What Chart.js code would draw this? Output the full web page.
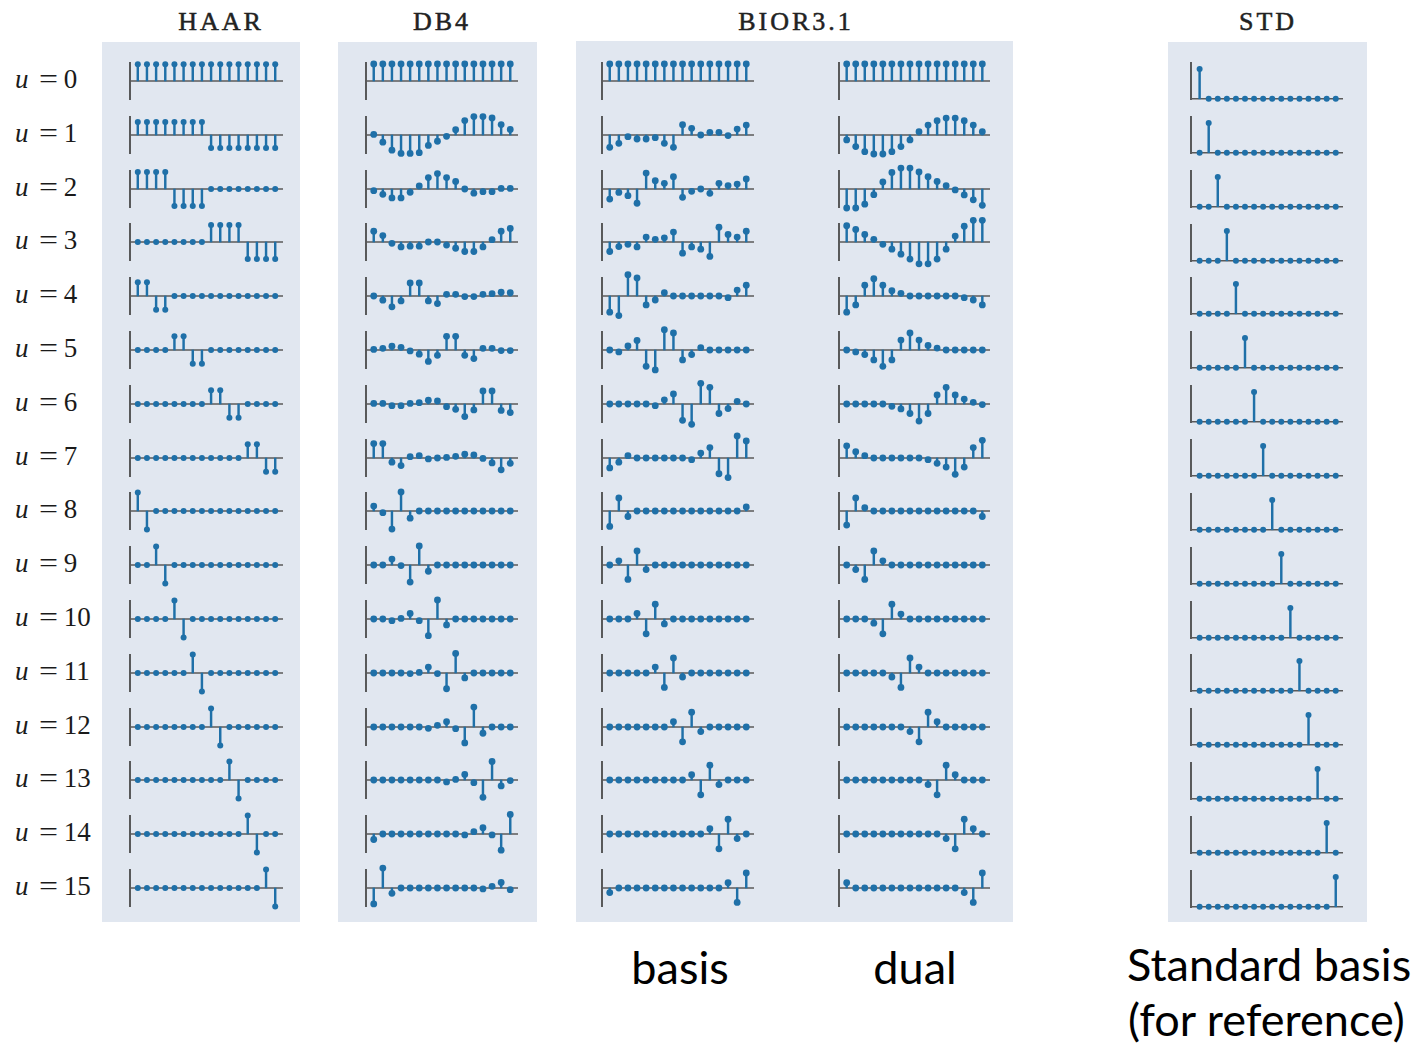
<!DOCTYPE html>
<html>
<head>
<meta charset="utf-8">
<script src="https://cdn.jsdelivr.net/npm/chart.js@4.4.0/dist/chart.umd.min.js"></script>
<style>
  body { margin: 0; background: #fff; }
  #page { position: relative; width: 1414px; height: 1046px; overflow: hidden; }
  .panel { position: absolute; background: #e1e7f0; }
  .title { position: absolute; font-family: "Liberation Serif", serif; font-size: 26px; letter-spacing: 3px; color: #222; -webkit-text-stroke: 0.5px #222; transform: translateX(-50%); line-height: 1; white-space: nowrap; }
  .rowlab { position: absolute; left: 15px; font-family: "Liberation Serif", serif; font-size: 27px; color: #1a1a1a; line-height: 1; white-space: nowrap; }
  .rowlab .eq { display: inline-block; margin: 0 8px 0 12px; transform: scaleX(1.25); }
  .note { position: absolute; font-family: Lato, "Open Sans", sans-serif; font-size: 45px; color: #000; line-height: 1; white-space: nowrap; }
  canvas { position: absolute; }
</style>
</head>
<body>
<div id="page"></div>
<script>
// values, in units of the half-height of each small axis
const haarRows = [
  [0.88,0.88,0.88,0.88,0.88,0.88,0.88,0.88,0.88,0.88,0.88,0.88,0.88,0.88,0.88,0.88],
  [0.68,0.68,0.68,0.68,0.68,0.68,0.68,0.68,-0.68,-0.68,-0.68,-0.68,-0.68,-0.68,-0.68,-0.68],
  [0.9,0.9,0.9,0.9,-0.9,-0.9,-0.9,-0.9,0,0,0,0,0,0,0,0],
  [0,0,0,0,0,0,0,0,0.9,0.9,0.9,0.9,-0.9,-0.9,-0.9,-0.9],
  [0.72,0.72,-0.72,-0.72,0,0,0,0,0,0,0,0,0,0,0,0],
  [0,0,0,0,0.72,0.72,-0.72,-0.72,0,0,0,0,0,0,0,0],
  [0,0,0,0,0,0,0,0,0.72,0.72,-0.72,-0.72,0,0,0,0],
  [0,0,0,0,0,0,0,0,0,0,0,0,0.72,0.72,-0.72,-0.72],
  [0.97,-0.97,0,0,0,0,0,0,0,0,0,0,0,0,0,0],
  [0,0,0.97,-0.97,0,0,0,0,0,0,0,0,0,0,0,0],
  [0,0,0,0,0.97,-0.97,0,0,0,0,0,0,0,0,0,0],
  [0,0,0,0,0,0,0.97,-0.97,0,0,0,0,0,0,0,0],
  [0,0,0,0,0,0,0,0,0.97,-0.97,0,0,0,0,0,0],
  [0,0,0,0,0,0,0,0,0,0,0.97,-0.97,0,0,0,0],
  [0,0,0,0,0,0,0,0,0,0,0,0,0.97,-0.97,0,0],
  [0,0,0,0,0,0,0,0,0,0,0,0,0,0,0.97,-0.97]
];

const db4Rows = [
  [0.9,0.9,0.9,0.9,0.9,0.9,0.9,0.9,0.9,0.9,0.9,0.9,0.9,0.9,0.9,0.9],
  [0.03,-0.38,-0.8,-0.97,-0.97,-0.93,-0.55,-0.33,-0.07,0.28,0.76,0.97,0.97,0.9,0.55,0.29],
  [-0.09,-0.28,-0.47,-0.47,-0.17,0.16,0.6,0.81,0.6,0.4,0,-0.22,-0.14,-0.14,0.03,0.03],
  [0.57,0.34,-0.07,-0.26,-0.22,-0.22,0,0,-0.16,-0.33,-0.5,-0.5,-0.26,0.12,0.57,0.71],
  [0,-0.22,-0.57,-0.26,0.69,0.69,-0.26,-0.4,0.09,0.09,-0.03,-0.03,0.09,0.12,0.2,0.17],
  [0.03,0.09,0.2,0.14,-0.05,-0.22,-0.6,-0.28,0.72,0.72,-0.28,-0.45,0.09,0.09,-0.03,-0.03],
  [0.03,0.03,-0.09,-0.09,0.03,0.07,0.2,0.16,-0.14,-0.28,-0.66,-0.31,0.69,0.69,-0.34,-0.45],
  [0.76,0.76,-0.22,-0.4,0.07,0.12,-0.05,0,0.03,0.09,0.2,0.16,-0.02,-0.26,-0.62,-0.28],
  [0.26,-0.09,-0.95,1.0,-0.38,0,0,0,0,0,0,0,0,0,0,0],
  [0,0,0.31,-0.03,-0.9,1.0,-0.33,0,0,0,0,0,0,0,0,0],
  [0,0,-0.09,0.03,0.29,-0.09,-0.88,1.0,-0.31,0,0,0,0,0,0,0],
  [0,0,0,0,-0.03,0.03,0.31,-0.03,-0.83,1.03,-0.26,0,0,0,0,0],
  [0,0,0,0,0,0,-0.07,0.09,0.28,-0.09,-0.84,1.05,-0.33,0,0,0],
  [0,0,0,0,0,0,0,0,-0.1,0.03,0.29,-0.14,-0.91,0.98,-0.31,-0.03],
  [-0.29,0,0,0,0,0,0,0,0,0,-0.05,0.12,0.33,-0.05,-0.85,1.03],
  [-0.84,1.05,-0.28,0,0,0,0,0,0,0,0,0,-0.05,0.09,0.29,-0.09]
];

const biorBasisRows = [
  [0.9,0.9,0.9,0.9,0.9,0.9,0.9,0.9,0.9,0.9,0.9,0.9,0.9,0.9,0.9,0.9],
  [-0.65,-0.44,-0.09,-0.21,-0.21,-0.14,-0.44,-0.65,0.54,0.35,0,0.14,0.14,-0.03,0.31,0.52],
  [-0.53,-0.18,-0.35,-0.75,0.84,0.44,0.3,0.65,-0.44,-0.12,0,-0.23,0.3,0.18,0.26,0.53],
  [-0.5,-0.24,-0.12,-0.26,0.26,0.14,0.22,0.52,-0.59,-0.26,-0.38,-0.76,0.78,0.4,0.26,0.57],
  [-0.85,-1.03,1.12,0.95,-0.47,-0.21,0.17,0,0,0,0,0,0,-0.09,0.31,0.57],
  [0,-0.1,0.21,0.5,-0.86,-1.05,1.07,0.9,-0.52,-0.24,0.12,0,0,0,0,0],
  [0,0,0,0,0,-0.09,0.22,0.53,-0.86,-1.07,1.09,0.88,-0.5,-0.24,0.14,0],
  [-0.52,-0.22,0.12,0,0,0,0,0,0,-0.09,0.26,0.55,-0.83,-1.03,1.16,0.9],
  [-0.81,0.69,-0.29,0,0,0,0,0,0,0,0,0,0,0,0,0.21],
  [0,0.22,-0.76,0.74,-0.24,0,0,0,0,0,0,0,0,0,0,0],
  [0,0,0,0.29,-0.78,0.78,-0.26,0,0,0,0,0,0,0,0,0],
  [0,0,0,0,0,0.31,-0.76,0.79,-0.21,0,0,0,0,0,0,0],
  [0,0,0,0,0,0,0,0.28,-0.78,0.78,-0.24,0,0,0,0,0],
  [0,0,0,0,0,0,0,0,0,0.28,-0.78,0.78,-0.24,0,0,0],
  [0,0,0,0,0,0,0,0,0,0,0,0.28,-0.78,0.78,-0.24,0],
  [-0.24,0,0,0,0,0,0,0,0,0,0,0,0,0.28,-0.76,0.79]
];

const biorDualRows = [
  [0.9,0.9,0.9,0.9,0.9,0.9,0.9,0.9,0.9,0.9,0.9,0.9,0.9,0.9,0.9,0.9],
  [-0.26,-0.61,-0.88,-1.0,-1.0,-0.88,-0.61,-0.26,0.17,0.52,0.75,0.89,0.89,0.75,0.52,0.17],
  [-1.0,-1.0,-0.8,-0.3,0.37,0.87,1.1,1.1,0.9,0.65,0.4,0.17,-0.05,-0.31,-0.57,-0.86],
  [0.86,0.66,0.4,0.14,-0.12,-0.38,-0.64,-0.9,-1.15,-1.15,-0.9,-0.38,0.31,0.83,1.14,1.14],
  [-0.85,-0.47,0.57,0.91,0.57,0.28,0.14,0,0,0,0,0,0,-0.09,-0.21,-0.47],
  [0,-0.1,-0.24,-0.52,-0.86,-0.52,0.52,0.9,0.52,0.24,0.1,0,0,0,0,0],
  [0,0,0,0,0,-0.12,-0.26,-0.5,-0.9,-0.5,0.48,0.88,0.48,0.26,0.09,-0.03],
  [0.64,0.33,0.12,0,0,0,0,0,0,-0.09,-0.28,-0.48,-0.86,-0.48,0.55,0.93],
  [-0.74,0.69,0.17,0,0,0,0,0,0,0,0,0,0,0,0,-0.29],
  [0,-0.24,-0.76,0.74,0.22,0,0,0,0,0,0,0,0,0,0,0],
  [0,0,0,-0.22,-0.78,0.78,0.26,0,0,0,0,0,0,0,0,0],
  [0,0,0,0,0,-0.21,-0.76,0.79,0.31,0,0,0,0,0,0,0],
  [0,0,0,0,0,0,0,-0.24,-0.78,0.78,0.28,0,0,0,0,0],
  [0,0,0,0,0,0,0,0,0,-0.24,-0.78,0.78,0.28,0,0,0],
  [0,0,0,0,0,0,0,0,0,0,0,-0.24,-0.78,0.78,0.28,0],
  [0.28,0,0,0,0,0,0,0,0,0,0,0,0,-0.24,-0.76,0.79]
];

const stdRows = [
  [1,0,0,0,0,0,0,0,0,0,0,0,0,0,0,0],
  [0,1,0,0,0,0,0,0,0,0,0,0,0,0,0,0],
  [0,0,1,0,0,0,0,0,0,0,0,0,0,0,0,0],
  [0,0,0,1,0,0,0,0,0,0,0,0,0,0,0,0],
  [0,0,0,0,1,0,0,0,0,0,0,0,0,0,0,0],
  [0,0,0,0,0,1,0,0,0,0,0,0,0,0,0,0],
  [0,0,0,0,0,0,1,0,0,0,0,0,0,0,0,0],
  [0,0,0,0,0,0,0,1,0,0,0,0,0,0,0,0],
  [0,0,0,0,0,0,0,0,1,0,0,0,0,0,0,0],
  [0,0,0,0,0,0,0,0,0,1,0,0,0,0,0,0],
  [0,0,0,0,0,0,0,0,0,0,1,0,0,0,0,0],
  [0,0,0,0,0,0,0,0,0,0,0,1,0,0,0,0],
  [0,0,0,0,0,0,0,0,0,0,0,0,1,0,0,0],
  [0,0,0,0,0,0,0,0,0,0,0,0,0,1,0,0],
  [0,0,0,0,0,0,0,0,0,0,0,0,0,0,1,0],
  [0,0,0,0,0,0,0,0,0,0,0,0,0,0,0,1]
];

const rowLabels = ['0','1','2','3','4','5','6','7','8','9','10','11','12','13','14','15'];
const titles = ['HAAR', 'DB4', 'BIOR3.1', 'STD'];
const notes = ['basis', 'dual', 'Standard basis', '(for reference)'];

let stemColor = '#1f70a8';
let baseColor = '#5a5a5a';
let spineColor = '#4a4a4a';

const page = document.getElementById('page');

function addDiv(cls, html, css) {
    let d = document.createElement('div');
    d.className = cls;
    d.innerHTML = html;
    Object.assign(d.style, css);
    page.appendChild(d);
    return d;
}

// grey panels
addDiv('panel', '', { left: '102px', top: '42px', width: '198px', height: '880px' });
addDiv('panel', '', { left: '338px', top: '42px', width: '199px', height: '880px' });
addDiv('panel', '', { left: '576px', top: '41px', width: '437px', height: '881px' });
addDiv('panel', '', { left: '1168px', top: '42px', width: '199px', height: '880px' });

// column titles
addDiv('title', titles[0], { left: '221px', top: '9px' });
addDiv('title', titles[1], { left: '442px', top: '9px' });
addDiv('title', titles[2], { left: '796px', top: '9px' });
addDiv('title', titles[3], { left: '1268px', top: '9px' });

// notes under the figure
addDiv('note', notes[0], { left: '680px', top: '945px', transform: 'translateX(-50%)' });
addDiv('note', notes[1], { left: '915px', top: '945px', transform: 'translateX(-50%)' });
addDiv('note', notes[2], { left: '1127px', top: '942px' });
addDiv('note', notes[3], { left: '1128px', top: '997px' });

const columns = [
    { rows: haarRows, left: 130, width: 153, xMin: -0.85, xMax: 15.85, dot: 3, std: false },
    { rows: db4Rows, left: 366, width: 152, xMin: -0.85, xMax: 15.85, dot: 3.4, std: false },
    { rows: biorBasisRows, left: 602, width: 152, xMin: -0.85, xMax: 15.85, dot: 3.4, std: false },
    { rows: biorDualRows, left: 839, width: 151, xMin: -0.85, xMax: 15.85, dot: 3.4, std: false },
    { rows: stdRows, left: 1191, width: 152, xMin: -0.95, xMax: 15.8, dot: 3, std: true }
];

const pad = 8;

function stemChart(canvas, values, col) {
    let yMin = col.std ? -0.04 : -1;
    let yMax = col.std ? 1.23 : 1;
    let pts = values.map((v, i) => ({ x: i, y: v }));
    return new Chart(canvas, {
        type: 'bar',
        data: {
            datasets: [
                {
                    type: 'line', data: pts, showLine: false,
                    pointRadius: col.dot, pointBackgroundColor: stemColor,
                    pointBorderWidth: 0, order: 0, clip: false
                },
                {
                    type: 'bar', data: pts, backgroundColor: stemColor,
                    barThickness: 1.8, grouped: false, order: 1, clip: false
                },
                {
                    type: 'line', data: [{ x: col.xMin, y: 0 }, { x: col.xMax, y: 0 }],
                    borderColor: baseColor, borderWidth: 1.4, pointRadius: 0, order: 2
                },
                {
                    type: 'line', data: [{ x: col.xMin, y: yMin }, { x: col.xMin, y: yMax }],
                    borderColor: spineColor, borderWidth: 1.8, pointRadius: 0, order: 3, clip: false
                }
            ]
        },
        options: {
            responsive: false,
            animation: false,
            devicePixelRatio: 1,
            events: [],
            layout: { padding: pad },
            plugins: { legend: { display: false }, tooltip: { enabled: false } },
            scales: {
                x: { type: 'linear', min: col.xMin, max: col.xMax, offset: false, display: false },
                y: { type: 'linear', min: yMin, max: yMax, display: false }
            }
        }
    });
}

for (let u = 0; u < 16; u++) {
    let yb = 81 + 53.8 * u;
    addDiv('rowlab', '<i>u</i><span class="eq">=</span>' + rowLabels[u],
        { top: (yb - 15) + 'px' });

    columns.forEach(col => {
        let top = col.std ? (99 + 53.85 * u) - 37 : yb - 19;
        let h = 38;
        let c = document.createElement('canvas');
        c.width = col.width + 2 * pad;
        c.height = h + 2 * pad;
        c.style.left = (col.left - pad) + 'px';
        c.style.top = (top - pad) + 'px';
        page.appendChild(c);
        stemChart(c, col.rows[u], col);
    });
}
</script>
</body>
</html>
